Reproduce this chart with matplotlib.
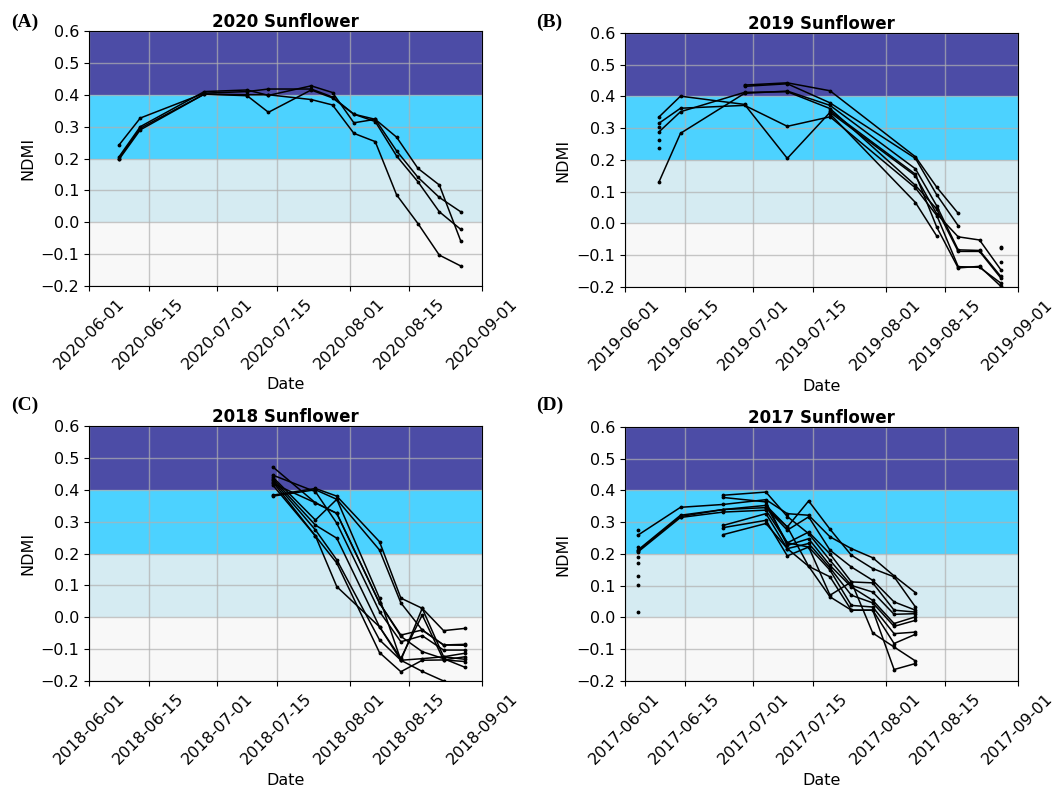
import numpy as np
import matplotlib
matplotlib.use('Agg')
import matplotlib.pyplot as plt
import matplotlib.dates as mdates

nan = np.nan

# 2020 sunflower
dates_2020 = ['2020-06-08', '2020-06-13', '2020-06-28', '2020-07-08', '2020-07-13',
              '2020-07-23', '2020-07-28', '2020-08-02', '2020-08-07', '2020-08-12',
              '2020-08-17', '2020-08-22', '2020-08-27']
ndmi_2020 = [
    [0.242, 0.327, 0.405, 0.410, 0.418, 0.418, 0.393, 0.339, 0.323, 0.267, 0.169, 0.117, -0.058],
    [0.205, 0.300, 0.410, 0.415, 0.398, 0.428, 0.407, 0.312, 0.323, 0.224, 0.141, 0.078, 0.033],
    [0.200, 0.295, 0.402, 0.397, 0.345, 0.415, 0.390, 0.339, 0.316, 0.208, 0.127, 0.033, -0.022],
    [0.197, 0.290, 0.402, 0.400, 0.400, 0.385, 0.368, 0.279, 0.253, 0.086, -0.004, -0.103, -0.137],
]

# 2019 sunflower
dates_2019 = ['2019-06-09', '2019-06-14', '2019-06-29', '2019-07-09', '2019-07-19',
              '2019-08-08', '2019-08-13', '2019-08-18', '2019-08-23', '2019-08-28']
ndmi_2019 = [
    [0.336, 0.401, 0.375, 0.205, 0.350, 0.150, 0.030, -0.042, -0.052, -0.146],
    [0.132, 0.284, 0.410, 0.417, 0.372, 0.172, 0.055, -0.083, -0.085, -0.167],
    [0.316, 0.363, 0.372, 0.306, 0.336, 0.112, 0.025, -0.136, -0.138, -0.188],
    [0.289, 0.352, 0.413, 0.415, 0.362, 0.120, 0.045, -0.088, -0.088, -0.172],
    [0.303, nan, nan, nan, 0.355, 0.155, -0.012, -0.140, -0.135, -0.198],
    [nan, nan, 0.436, 0.443, 0.418, 0.210, 0.114, 0.032, nan, -0.073],
    [nan, nan, 0.432, 0.440, 0.380, 0.205, 0.090, -0.007, nan, -0.120],
    [0.263, nan, nan, nan, 0.345, 0.066, -0.040, nan, nan, -0.077],
    [0.237, nan, nan, nan, nan, nan, nan, nan, nan, nan],
]

# 2018 sunflower
dates_2018 = ['2018-07-14', '2018-07-24', '2018-07-29', '2018-08-08', '2018-08-13',
              '2018-08-18', '2018-08-23', '2018-08-28']
ndmi_2018 = [
    [0.472, 0.359, 0.326, 0.044, -0.056, -0.040, -0.087, -0.085],
    [0.446, 0.394, 0.295, 0.018, -0.077, -0.058, -0.103, -0.103],
    [0.440, 0.305, 0.370, 0.060, -0.135, 0.028, -0.124, -0.113],
    [0.435, 0.289, 0.248, -0.030, -0.129, 0.007, -0.134, -0.124],
    [0.430, 0.274, 0.180, -0.071, -0.135, -0.130, -0.124, -0.132],
    [0.425, 0.255, 0.170, -0.111, -0.171, -0.135, -0.134, -0.139],
    [0.415, 0.255, 0.096, -0.030, -0.135, -0.170, -0.200, nan],
    [0.420, 0.359, 0.326, 0.045, -0.060, -0.108, -0.130, -0.157],
    [0.383, 0.404, 0.380, 0.237, 0.060, 0.028, -0.042, -0.035],
    [0.380, 0.400, 0.370, 0.211, 0.045, -0.040, -0.087, -0.088],
]

# 2017 sunflower
dates_2017 = ['2017-06-04', '2017-06-14', '2017-06-24', '2017-07-04', '2017-07-09',
              '2017-07-14', '2017-07-19', '2017-07-24', '2017-07-29', '2017-08-03',
              '2017-08-08']
ndmi_2017 = [
    [0.259, 0.347, 0.356, 0.371, 0.327, 0.322, 0.254, 0.217, 0.188, 0.131, 0.078],
    [0.212, 0.322, 0.340, 0.353, 0.285, 0.367, 0.278, 0.196, 0.154, 0.128, 0.033],
    [0.210, 0.318, 0.340, 0.346, 0.275, 0.317, 0.212, 0.159, 0.117, 0.049, 0.023],
    [0.206, 0.315, 0.332, 0.338, 0.235, 0.269, 0.200, 0.112, 0.109, 0.023, 0.017],
    [0.277, nan, 0.385, 0.395, 0.318, 0.264, 0.180, 0.101, 0.080, 0.010, 0.012],
    [0.222, nan, 0.378, 0.364, 0.227, 0.248, 0.164, 0.096, 0.054, -0.019, 0.002],
    [0.190, nan, 0.290, 0.327, 0.217, 0.233, 0.156, 0.070, 0.046, -0.028, -0.009],
    [0.172, nan, 0.283, 0.306, 0.194, 0.222, 0.149, 0.038, 0.033, -0.051, -0.046],
    [0.130, nan, 0.261, 0.296, 0.217, 0.161, 0.128, 0.023, 0.023, -0.082, -0.053],
    [0.103, nan, nan, 0.353, 0.235, 0.222, 0.070, 0.112, -0.049, -0.093, -0.137],
    [0.017, nan, nan, 0.346, 0.285, 0.161, 0.065, 0.023, 0.023, -0.164, -0.145],
]

panels = [('(A)', '2020', dates_2020, ndmi_2020),
          ('(B)', '2019', dates_2019, ndmi_2019),
          ('(C)', '2018', dates_2018, ndmi_2018),
          ('(D)', '2017', dates_2017, ndmi_2017)]

rects = [[0.0844, 0.6384, 0.3725, 0.3224],
         [0.5924, 0.6372, 0.3725, 0.3211],
         [0.0844, 0.1391, 0.3725, 0.3223],
         [0.5924, 0.1391, 0.3725, 0.3211]]
label_pos = [(0.011, 0.972), (0.508, 0.972), (0.011, 0.487), (0.508, 0.487)]

fig = plt.figure(figsize=(10.55, 7.91), dpi=100)

for (tag, year, dates, vals), rect, lp in zip(panels, rects, label_pos):
    ax = fig.add_axes(rect)
    ax.axhspan(0.4, 0.6, color='navy', alpha=0.7, lw=0)
    ax.axhspan(0.2, 0.4, color='deepskyblue', alpha=0.7, lw=0)
    ax.axhspan(0.0, 0.2, color='lightblue', alpha=0.5, lw=0)
    ax.axhspan(-0.2, 0.0, color='lightgrey', alpha=0.15, lw=0)
    d = np.array(dates, dtype='datetime64[D]')
    for v in vals:
        ax.plot(d, v, 'k.-', lw=1.1, ms=3.5)
    ax.set_xlim(np.datetime64(year + '-06-01'), np.datetime64(year + '-09-01'))
    ax.set_ylim(-0.2, 0.6)
    ax.set_yticks(np.arange(-0.2, 0.61, 0.1))
    ax.xaxis.set_major_locator(mdates.DayLocator(bymonthday=[1, 15]))
    ax.xaxis.set_major_formatter(mdates.DateFormatter('%Y-%m-%d'))
    ax.tick_params(labelsize=11.5)
    plt.setp(ax.get_xticklabels(), rotation=45)
    ax.grid(color='#b0b0b0', alpha=0.7, lw=1)
    ax.set_title(year + ' Sunflower', fontsize=12, fontweight='bold', pad=3)
    ax.set_xlabel('Date', fontsize=11.5)
    ax.set_ylabel('NDMI', fontsize=11.5)
    fig.text(lp[0], lp[1], tag, fontsize=14, fontweight='bold',
             family='Liberation Serif', va='center')

plt.savefig('out.png')
plt.close()
